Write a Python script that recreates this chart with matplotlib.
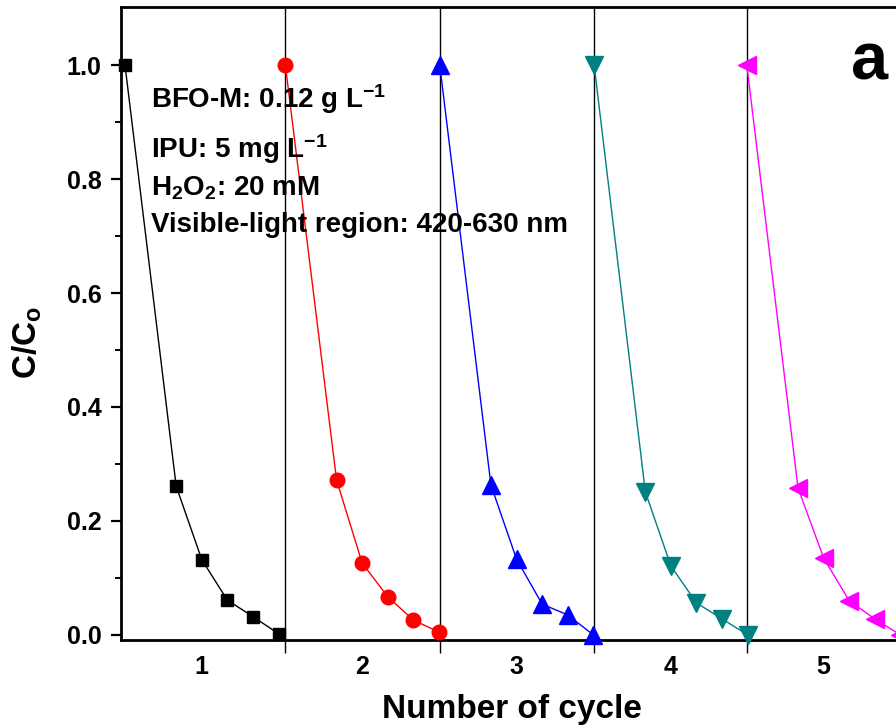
import matplotlib
matplotlib.use("Agg")
import matplotlib.pyplot as plt

plt.rcParams['font.family'] = ['Liberation Sans', 'DejaVu Sans']
plt.rcParams['font.weight'] = 'bold'
plt.rcParams['mathtext.fontset'] = 'custom'
plt.rcParams['mathtext.rm'] = 'Liberation Sans:bold'
plt.rcParams['mathtext.bf'] = 'Liberation Sans:bold'
plt.rcParams['mathtext.it'] = 'Liberation Sans:bold'

# sampling times inside one cycle (min) and where each cycle starts on the axis
time_min = [0, 60, 90, 120, 150, 180]
cycle_start = [0, 188, 369, 550, 729]
cycle_names = ['1', '2', '3', '4', '5']

cycle1 = [1.0, 0.261, 0.132, 0.061, 0.032, 0.002]
cycle2 = [1.0, 0.272, 0.126, 0.067, 0.026, 0.005]
cycle3 = [1.0, 0.263, 0.133, 0.054, 0.035, 0.0]
cycle4 = [1.0, 0.251, 0.121, 0.056, 0.028, 0.0]
cycle5 = [1.0, 0.258, 0.135, 0.060, 0.028, 0.0]

series = [cycle1, cycle2, cycle3, cycle4, cycle5]
colors = ['black', 'red', 'blue', '#008080', 'magenta']
markers = ['s', 'o', '^', 'v', '<']
msizes = [9, 10.5, 12.5, 12.5, 12.5]

fig = plt.figure(figsize=(8.96, 7.28), dpi=100)
ax = fig.add_axes([121/896, 1 - 640/728, 829/896, 633/728])

for i in range(len(series)):
    x = [cycle_start[i] + t for t in time_min]
    ax.plot(x, series[i], color=colors[i], marker=markers[i], ms=msizes[i],
            lw=1.0, mec=colors[i], mfc=colors[i], clip_on=False, zorder=3)

for xs in cycle_start[1:]:
    ax.axvline(xs, color='black', lw=1.0, zorder=2)

ax.set_xlim(-4.7, 967.2)
ax.set_ylim(-0.009, 1.102)

ax.set_xticks(cycle_start[1:])
ax.set_xticklabels([''] * 4)
ax.set_xticks([s + 90 for s in cycle_start], minor=True)
ax.set_xticklabels(cycle_names, minor=True)
ax.tick_params(axis='x', which='major', direction='out', length=9, width=1.0)
ax.tick_params(axis='x', which='minor', length=0, pad=11, labelsize=18)

ax.set_yticks([0.0, 0.2, 0.4, 0.6, 0.8, 1.0])
ax.set_yticklabels(['0.0', '0.2', '0.4', '0.6', '0.8', '1.0'])
ax.set_yticks([0.1, 0.3, 0.5, 0.7, 0.9], minor=True)
ax.tick_params(axis='y', which='major', direction='out', length=7, width=1.6,
               pad=7, labelsize=18)
ax.tick_params(axis='y', which='minor', direction='out', length=4, width=1.4)

for sp in ax.spines.values():
    sp.set_linewidth(2.0)

fig.text(512/896, 1 - 718/728, 'Number of cycle', ha='center', va='baseline',
         fontsize=24, fontweight='bold')
fig.text(27/896, 1 - 342/728, r'C/C$_\mathbf{o}$', ha='center', va='center',
         rotation=90, fontsize=24, fontweight='bold')

lines = [r'BFO-M: 0.12 g L$^\mathbf{-1}$',
         r'IPU: 5 mg L$^\mathbf{-1}$',
         r'H$_\mathbf{2}$O$_\mathbf{2}$: 20 mM',
         'Visible-light region: 420-630 nm']
baselines = [108, 158, 195, 232]
for txt, yb in zip(lines, baselines):
    fig.text(151/896, 1 - yb/728, txt, ha='left', va='baseline',
             fontsize=20, fontweight='bold')

fig.text(851/896, 1 - 80/728, 'a', ha='left', va='baseline',
         fontsize=48, fontweight='bold')

fig.savefig('out.png', dpi=100)
